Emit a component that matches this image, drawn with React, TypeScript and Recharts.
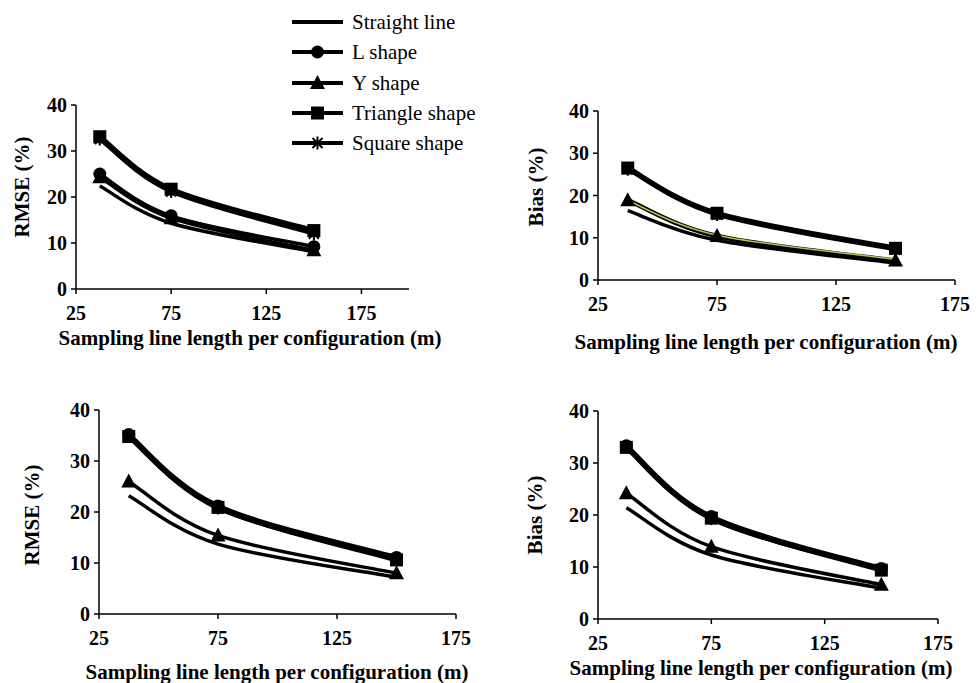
import React from 'react';
import { LineChart, Line, XAxis, YAxis, Label } from 'recharts';

const FONT = '"Liberation Serif", "Times New Roman", serif';

const X_VALUES = [37.5, 75, 150];
const SERIES_NAMES = ['Straight line', 'L shape', 'Y shape', 'Triangle shape', 'Square shape'];
const X_TICKS = [25, 75, 125, 175];
const Y_TICKS = [0, 10, 20, 30, 40];

// Panel 1: RMSE (top-left)
const P1_STRAIGHT = [22.4, 14.3, 8.1];
const P1_L = [25.0, 15.9, 9.2];
const P1_Y = [24.3, 15.4, 8.4];
const P1_TRIANGLE = [33.1, 21.7, 12.7];
const P1_SQUARE = [32.6, 21.2, 12.0];

// Panel 2: Bias (top-right)
const P2_STRAIGHT = [16.4, 9.4, 4.0];
const P2_L = [18.8, 10.6, 4.9];
const P2_Y = [18.9, 10.4, 4.6];
const P2_TRIANGLE = [26.5, 15.8, 7.5];
const P2_SQUARE = [26.2, 15.5, 7.2];

// Panel 3: RMSE (bottom-left)
const P3_STRAIGHT = [23.2, 13.7, 7.2];
const P3_L = [35.2, 21.2, 11.1];
const P3_Y = [26.0, 15.4, 8.0];
const P3_TRIANGLE = [34.8, 20.9, 10.6];
const P3_SQUARE = [34.9, 20.8, 10.8];

// Panel 4: Bias (bottom-right)
const P4_STRAIGHT = [21.4, 12.3, 5.9];
const P4_L = [33.3, 19.7, 9.7];
const P4_Y = [24.2, 13.9, 6.6];
const P4_TRIANGLE = [33.0, 19.4, 9.4];
const P4_SQUARE = [33.1, 19.3, 9.5];

const KEYS = ['straight', 'l', 'y', 'triangle', 'square'];

function buildData(s: number[], l: number[], y: number[], t: number[], q: number[]) {
  return X_VALUES.map((x, i) => ({ x, straight: s[i], l: l[i], y: y[i], triangle: t[i], square: q[i] }));
}

// Excel-like smoothed line (Catmull-Rom style Bezier segments)
function excelSmooth(context: any) {
  let pts: number[][] = [];
  return {
    areaStart() {},
    areaEnd() {},
    lineStart() {
      pts = [];
    },
    point(x: number, y: number) {
      pts.push([+x, +y]);
    },
    lineEnd() {
      const n = pts.length;
      if (!n) return;
      context.moveTo(pts[0][0], pts[0][1]);
      for (let i = 0; i < n - 1; i++) {
        const p0 = pts[Math.max(i - 1, 0)];
        const p1 = pts[i];
        const p2 = pts[i + 1];
        const p3 = pts[Math.min(i + 2, n - 1)];
        context.bezierCurveTo(
          p1[0] + (p2[0] - p0[0]) / 6,
          p1[1] + (p2[1] - p0[1]) / 6,
          p2[0] - (p3[0] - p1[0]) / 6,
          p2[1] - (p3[1] - p1[1]) / 6,
          p2[0],
          p2[1]
        );
      }
    },
  };
}

type MarkerKind = 'none' | 'circle' | 'triangle' | 'square' | 'star';

function Marker({ kind, cx, cy }: { kind: MarkerKind; cx: number; cy: number }) {
  if (kind === 'circle') return <circle cx={cx} cy={cy} r={6.5} fill="#000" />;
  if (kind === 'square') return <rect x={cx - 6.5} y={cy - 6.5} width={13} height={13} fill="#000" />;
  if (kind === 'triangle')
    return <polygon points={`${cx},${cy - 8} ${cx - 7.5},${cy + 6} ${cx + 7.5},${cy + 6}`} fill="#000" />;
  if (kind === 'star')
    return (
      <g stroke="#000" strokeWidth={2}>
        <line x1={cx - 5} y1={cy - 5} x2={cx + 5} y2={cy + 5} />
        <line x1={cx - 5} y1={cy + 5} x2={cx + 5} y2={cy - 5} />
        <line x1={cx} y1={cy - 6.5} x2={cx} y2={cy + 6.5} />
      </g>
    );
  return null;
}

const MARKERS: Record<string, MarkerKind> = {
  straight: 'none',
  l: 'circle',
  y: 'triangle',
  triangle: 'square',
  square: 'star',
};

type SeriesDef = { key: string; width: number; color?: string; marker?: MarkerKind };

type PanelProps = {
  left: number;
  top: number;
  width: number;
  height: number;
  plotLeft: number;
  plotRight: number;
  plotTop: number;
  plotBottom: number;
  xMax: number;
  data: any[];
  series: SeriesDef[];
  yLabel: string;
  yLabelX: number;
  yLabelY: number;
  xLabelX: number;
  xLabelY: number;
};

const Y_AXIS_W = 50;
const X_AXIS_H = 60;

function Panel(p: PanelProps) {
  const margin = {
    left: p.plotLeft - p.left - Y_AXIS_W,
    right: p.left + p.width - p.plotRight,
    top: p.plotTop - p.top,
    bottom: p.top + p.height - p.plotBottom - X_AXIS_H,
  };
  const tickStyle = { fill: '#000', fontSize: 20, fontWeight: 'bold', fontFamily: FONT };
  return (
    <div style={{ position: 'absolute', left: p.left, top: p.top, width: p.width, height: p.height }}>
      <LineChart width={p.width} height={p.height} data={p.data} margin={margin}>
        <XAxis
          type="number"
          dataKey="x"
          domain={[25, p.xMax]}
          ticks={X_TICKS}
          interval={0}
          allowDataOverflow
          height={X_AXIS_H}
          tickSize={5}
          tickMargin={12}
          axisLine={{ stroke: '#000', strokeWidth: 1.5 }}
          tickLine={{ stroke: '#000', strokeWidth: 1.5 }}
          tick={tickStyle}
        >
          <Label
            content={() => (
              <text
                x={p.xLabelX - p.left}
                y={p.xLabelY - p.top}
                textAnchor="middle"
                fontFamily={FONT}
                fontWeight="bold"
                fontSize={21}
                fill="#000"
              >
                Sampling line length per configuration (m)
              </text>
            )}
          />
        </XAxis>
        <YAxis
          type="number"
          domain={[0, 40]}
          ticks={Y_TICKS}
          interval={0}
          width={Y_AXIS_W}
          tickSize={5}
          tickMargin={4}
          axisLine={{ stroke: '#000', strokeWidth: 1.5 }}
          tickLine={{ stroke: '#000', strokeWidth: 1.5 }}
          tick={tickStyle}
        >
          <Label
            content={() => {
              const x = p.yLabelX - p.left;
              const y = p.yLabelY - p.top;
              return (
                <text
                  x={x}
                  y={y}
                  transform={`rotate(-90 ${x} ${y})`}
                  textAnchor="middle"
                  dominantBaseline="central"
                  fontFamily={FONT}
                  fontWeight="bold"
                  fontSize={21}
                  fill="#000"
                >
                  {p.yLabel}
                </text>
              );
            }}
          />
        </YAxis>
        {p.series.map((s) => {
          const kind = s.marker ?? MARKERS[s.key];
          return (
            <Line
              key={s.key + s.width + (s.color || '')}
              dataKey={s.key}
              type={excelSmooth as any}
              stroke={s.color || '#000'}
              strokeWidth={s.width}
              isAnimationActive={false}
              activeDot={false}
              dot={
                kind === 'none'
                  ? false
                  : (props: any) => <Marker key={`${s.key}-${props.index}`} kind={kind} cx={props.cx} cy={props.cy} />
              }
            />
          );
        })}
      </LineChart>
    </div>
  );
}

const STD_SERIES: SeriesDef[] = [
  { key: 'straight', width: 3.5 },
  { key: 'l', width: 3.5 },
  { key: 'y', width: 3.5 },
  { key: 'triangle', width: 5 },
  { key: 'square', width: 4 },
];

const P2_SERIES: SeriesDef[] = [
  { key: 'straight', width: 3.5 },
  { key: 'y', width: 4.5 },
  { key: 'l', width: 1.5, color: '#a9c94a', marker: 'none' },
  { key: 'triangle', width: 5 },
  { key: 'square', width: 4 },
];

const BOTTOM_SERIES: SeriesDef[] = [
  { key: 'straight', width: 3.5 },
  { key: 'y', width: 3.5 },
  { key: 'square', width: 4.5 },
  { key: 'triangle', width: 5 },
  { key: 'l', width: 4.5 },
];

const LEGEND_ROWS_Y = [22, 52, 83, 113, 143];

function Legend() {
  return (
    <svg
      width={979}
      height={170}
      style={{ position: 'absolute', left: 0, top: 0, pointerEvents: 'none' }}
    >
      {SERIES_NAMES.map((name, i) => {
        const y = LEGEND_ROWS_Y[i];
        const key = KEYS[i];
        return (
          <g key={name}>
            <line x1={292} y1={y} x2={343} y2={y} stroke="#000" strokeWidth={4} />
            <Marker kind={MARKERS[key]} cx={317.5} cy={y} />
            <text x={352} y={y} dominantBaseline="central" fontFamily={FONT} fontSize={21} fill="#000">
              {name}
            </text>
          </g>
        );
      })}
    </svg>
  );
}

export default function App() {
  return (
    <div style={{ position: 'absolute', left: 0, top: 0, width: 979, height: 683, background: '#fff' }}>
      <Panel
        left={0}
        top={90}
        width={470}
        height={270}
        plotLeft={76}
        plotRight={409}
        plotTop={105}
        plotBottom={289}
        xMax={200}
        data={buildData(P1_STRAIGHT, P1_L, P1_Y, P1_TRIANGLE, P1_SQUARE)}
        series={STD_SERIES}
        yLabel="RMSE (%)"
        yLabelX={22}
        yLabelY={187}
        xLabelX={250}
        xLabelY={345}
      />
      <Panel
        left={520}
        top={90}
        width={459}
        height={270}
        plotLeft={598}
        plotRight={955}
        plotTop={111}
        plotBottom={280}
        xMax={175}
        data={buildData(P2_STRAIGHT, P2_L, P2_Y, P2_TRIANGLE, P2_SQUARE)}
        series={P2_SERIES}
        yLabel="Bias (%)"
        yLabelX={536}
        yLabelY={187}
        xLabelX={766}
        xLabelY={349}
      />
      <Panel
        left={0}
        top={395}
        width={480}
        height={288}
        plotLeft={99}
        plotRight={456}
        plotTop={410}
        plotBottom={614}
        xMax={175}
        data={buildData(P3_STRAIGHT, P3_L, P3_Y, P3_TRIANGLE, P3_SQUARE)}
        series={BOTTOM_SERIES}
        yLabel="RMSE (%)"
        yLabelX={32}
        yLabelY={515}
        xLabelX={277}
        xLabelY={679}
      />
      <Panel
        left={520}
        top={395}
        width={459}
        height={288}
        plotLeft={598}
        plotRight={938}
        plotTop={411}
        plotBottom={619}
        xMax={175}
        data={buildData(P4_STRAIGHT, P4_L, P4_Y, P4_TRIANGLE, P4_SQUARE)}
        series={BOTTOM_SERIES}
        yLabel="Bias (%)"
        yLabelX={535}
        yLabelY={515}
        xLabelX={761}
        xLabelY={675}
      />
      <Legend />
    </div>
  );
}
